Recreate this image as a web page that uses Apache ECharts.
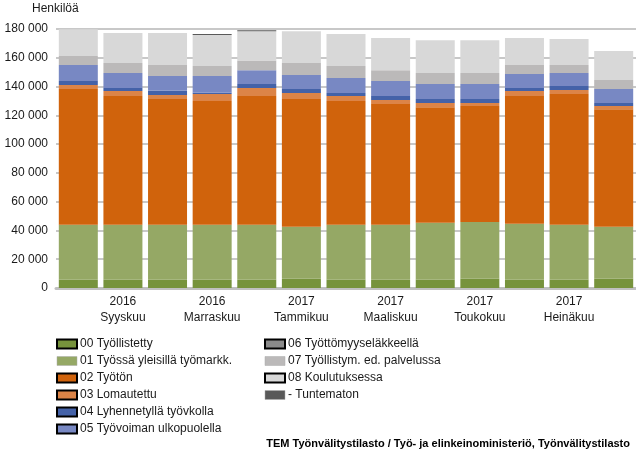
<!DOCTYPE html>
<html>
<head>
<meta charset="utf-8">
<script src="https://cdn.jsdelivr.net/npm/echarts@6/dist/echarts.min.js"></script>
<style>
  html, body { margin: 0; padding: 0; background: #fff; }
  #chart { width: 636px; height: 454px; }
</style>
</head>
<body>
<div id="chart"></div>
<script>
// kuukaudet (elokuu 2016 - elokuu 2017)
const years = ['2016', '2016', '2016', '2016', '2016', '2017', '2017', '2017', '2017', '2017', '2017', '2017', '2017'];
const months = ['Elokuu', 'Syyskuu', 'Lokakuu', 'Marraskuu', 'Joulukuu', 'Tammikuu', 'Helmikuu',
    'Maaliskuu', 'Huhtikuu', 'Toukokuu', 'Kesäkuu', 'Heinäkuu', 'Elokuu'];

// sarjojen arvot (henkilöä), luettu kuvasta
const tyollistetty = [5700, 5700, 5700, 5700, 5700, 6400, 5700, 5700, 5700, 6400, 5700, 5700, 6400];
const tyossaYleisilla = [38200, 38200, 38200, 38200, 38200, 36100, 38200, 38200, 39600, 39500, 38900, 38200, 36100];
const tyoton = [94400, 89600, 87500, 86100, 89600, 88900, 86100, 84000, 80400, 80500, 88900, 91000, 81700];
const lomautettu = [2800, 3400, 2800, 4900, 5500, 4100, 3500, 2800, 2800, 2100, 3400, 2700, 2200];
const lyhennetylla = [2800, 2100, 2900, 800, 2800, 2800, 2000, 2800, 2900, 2900, 2100, 2800, 2100];
const ulkopuolella = [11100, 10400, 10200, 11600, 9500, 9700, 10500, 10400, 10400, 10400, 9700, 9000, 9800];
const elakkeella = [0, 0, 0, 0, 0, 0, 0, 0, 0, 0, 0, 0, 0];
const tyollistymEd = [6200, 7000, 7700, 7000, 6800, 8400, 8300, 7400, 7600, 7600, 6300, 5600, 6300];
const koulutuksessa = [18600, 20800, 22200, 21600, 20400, 22100, 22200, 22500, 22800, 22800, 18800, 18100, 20100];
const tuntematon = [0, 0, 0, 600, 700, 0, 0, 0, 0, 0, 0, 0, 0];

const yTicks = [0, 20000, 40000, 60000, 80000, 100000, 120000, 140000, 160000, 180000];

const categories = years.map((y, i) => y + '\n' + months[i]);

const seriesDefs = [
    {name: '00 Työllistetty', data: tyollistetty, color: '#77933c', border: '#000'},
    {name: '01 Työssä yleisillä työmarkk.', data: tyossaYleisilla, color: '#95a865', border: null},
    {name: '02 Työtön', data: tyoton, color: '#d0630c', border: '#000'},
    {name: '03 Lomautettu', data: lomautettu, color: '#dc8447', border: '#000'},
    {name: '04 Lyhennetyllä työvkolla', data: lyhennetylla, color: '#4462a8', border: '#000'},
    {name: '05 Työvoiman ulkopuolella', data: ulkopuolella, color: '#7888c3', border: '#000'},
    {name: '06 Työttömyyseläkkeellä', data: elakkeella, color: '#8a8a8a', border: '#000'},
    {name: '07 Työllistym. ed. palvelussa', data: tyollistymEd, color: '#bbb9b9', border: null},
    {name: '08 Koulutuksessa', data: koulutuksessa, color: '#d8d8d8', border: '#000'},
    {name: '- Tuntematon', data: tuntematon, color: '#595959', border: null}
];

function fmt(v) {
    return String(v).replace(/\B(?=(\d{3})+(?!\d))/g, ' ');
}

function legendItems(defs) {
    return defs.map(d => ({
        name: d.name,
        itemStyle: d.border ? {borderColor: d.border, borderWidth: 2} : {borderColor: '#aaa', borderWidth: 0.5}
    }));
}

const chart = echarts.init(document.getElementById('chart'));

const legendBase = {
    orient: 'vertical',
    top: 337,
    height: 110,
    padding: 0,
    itemWidth: 20,
    itemHeight: 9,
    itemGap: 3,
    icon: 'rect',
    selectedMode: false,
    textStyle: {fontFamily: 'Liberation Sans, Arial', fontSize: 12, lineHeight: 14, color: '#1a1a1a', padding: [0, 0, 0, -2]}
};

chart.setOption({
    animation: false,
    textStyle: {fontFamily: 'Liberation Sans, Arial'},
    grid: {left: 56, right: -3, top: 29, bottom: 166, containLabel: false},
    graphic: [
        {type: 'text', left: 32, top: 3, style: {text: 'Henkilöä', fontSize: 12, fill: '#1a1a1a', fontFamily: 'Liberation Sans, Arial'}},
        {type: 'text', right: 6, top: 438, style: {text: 'TEM Työnvälitystilasto / Työ- ja elinkeinoministeriö, Työnvälitystilasto', fontSize: 11, fontWeight: 'bold', fill: '#000', fontFamily: 'Liberation Sans, Arial'}}
    ],
    legend: [
        Object.assign({}, legendBase, {left: 56, data: legendItems(seriesDefs.slice(0, 6))}),
        Object.assign({}, legendBase, {left: 264, data: legendItems(seriesDefs.slice(6))})
    ],
    xAxis: {
        type: 'category',
        data: categories,
        axisTick: {show: false},
        axisLine: {lineStyle: {color: '#c0c0c0', width: 3}},
        axisLabel: {
            interval: (i) => i % 2 === 1,
            color: '#1a1a1a',
            fontSize: 12,
            lineHeight: 16,
            margin: 6
        }
    },
    yAxis: {
        type: 'value',
        min: 0,
        max: 180000,
        interval: 20000,
        axisLine: {show: false},
        axisTick: {show: false},
        splitLine: {lineStyle: {color: '#c8c8c8', width: 2}},
        axisLabel: {
            color: '#1a1a1a',
            fontSize: 12,
            margin: 8,
            formatter: (v) => yTicks.includes(v) ? fmt(v) : ''
        }
    },
    series: seriesDefs.map(d => ({
        name: d.name,
        type: 'bar',
        stack: 'total',
        barWidth: 39,
        data: d.data,
        itemStyle: {color: d.color},
        emphasis: {disabled: true}
    }))
});
</script>
</body>
</html>
